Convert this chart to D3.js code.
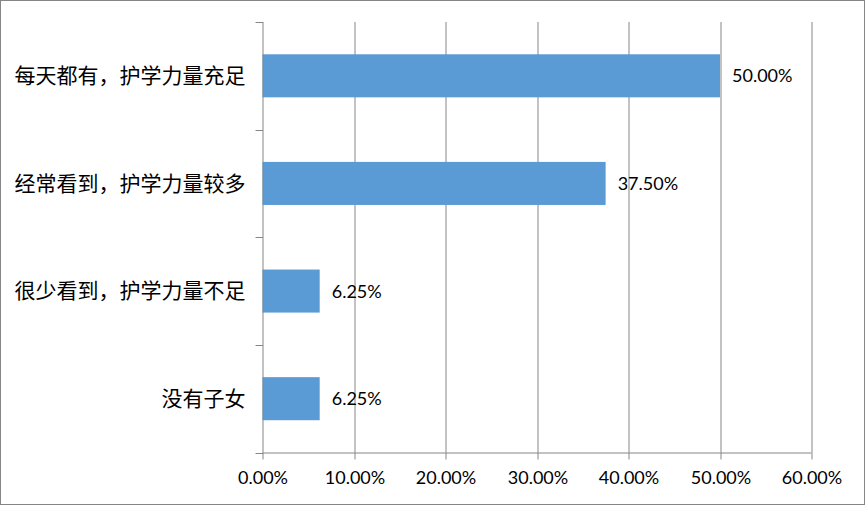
<!DOCTYPE html>
<html>
<head>
<meta charset="utf-8">
<script src="https://cdn.jsdelivr.net/npm/d3@7"></script>
<style>
  html, body { margin: 0; padding: 0; background: #fff; }
  svg { display: block; }
</style>
</head>
<body>
<svg id="chart" width="866" height="506"></svg>
<script>
const categories = ["每天都有，护学力量充足", "经常看到，护学力量较多", "很少看到，护学力量不足", "没有子女"];
const values = [0.50, 0.375, 0.0625, 0.0625];
const xTicks = [0, 0.1, 0.2, 0.3, 0.4, 0.5, 0.6];

const svg = d3.select("#chart");
const W = 866, H = 506;
const margin = { left: 262.5, right: 54.5, top: 22, bottom: 53.5 };
const innerW = W - margin.left - margin.right;
const innerH = H - margin.top - margin.bottom;
const gridColor = "#868686";

svg.append("rect").attr("x", 0.5).attr("y", 0.5).attr("width", 864).attr("height", 504)
  .attr("fill", "#fff").attr("stroke", gridColor).attr("stroke-width", 1);

const g = svg.append("g").attr("transform", `translate(${margin.left},${margin.top})`);

const x = d3.scaleLinear().domain([0, 0.6]).range([0, innerW]);
const y = d3.scaleBand().domain(categories).range([0, innerH]).paddingInner(0.6).paddingOuter(0.3);

// vertical gridlines
g.selectAll("line.grid").data(xTicks.slice(1)).enter().append("line")
  .attr("class", "grid")
  .attr("x1", d => Math.round(x(d)) + 0.5).attr("x2", d => Math.round(x(d)) + 0.5)
  .attr("y1", 0).attr("y2", innerH)
  .attr("stroke", gridColor).attr("stroke-width", 1);

// bars
g.selectAll("rect.bar").data(categories).enter().append("rect")
  .attr("class", "bar")
  .attr("x", 0)
  .attr("y", d => y(d))
  .attr("width", (d, i) => x(values[i]))
  .attr("height", y.bandwidth())
  .attr("fill", "#5B9BD5");

// bottom axis
const xAxis = d3.axisBottom(x).tickValues(xTicks).tickFormat(d => (d * 100).toFixed(2) + "%")
  .tickSize(7).tickSizeOuter(0);
const xa = g.append("g").attr("transform", `translate(0,${innerH})`).call(xAxis);
xa.select(".domain").attr("stroke", gridColor).attr("d", `M0,0.5H${innerW}`);
xa.selectAll(".tick line").attr("stroke", gridColor);
xa.selectAll(".tick").attr("transform", d => `translate(${Math.round(x(d)) + 0.5},0)`);
xa.selectAll(".tick text").attr("fill", "#000").attr("font-family", "Lato, sans-serif")
  .attr("font-size", 18).attr("dy", "0.71em").attr("y", 19);

// left axis: band boundary ticks
const boundaries = [0, 1, 2, 3, 4].map(i => i * innerH / 4);
g.append("line").attr("x1", 0.5).attr("x2", 0.5).attr("y1", 0).attr("y2", innerH)
  .attr("stroke", gridColor);
g.selectAll("line.ytick").data(boundaries).enter().append("line")
  .attr("class", "ytick")
  .attr("x1", -7).attr("x2", 0.5)
  .attr("y1", d => Math.round(d) + 0.5).attr("y2", d => Math.round(d) + 0.5)
  .attr("stroke", gridColor);

// category labels
g.selectAll("text.cat").data(categories).enter().append("text")
  .attr("class", "cat")
  .attr("x", -17)
  .attr("y", d => y(d) + y.bandwidth() / 2)
  .attr("dy", "0.35em")
  .attr("text-anchor", "end")
  .attr("font-family", "'Noto Sans CJK SC', sans-serif")
  .attr("font-size", 21)
  .attr("fill", "#000")
  .text(d => d);

// data labels
g.selectAll("text.val").data(categories).enter().append("text")
  .attr("class", "val")
  .attr("x", (d, i) => x(values[i]) + 12)
  .attr("y", d => y(d) + y.bandwidth() / 2)
  .attr("dy", "0.36em")
  .attr("font-family", "Lato, sans-serif")
  .attr("font-size", 18)
  .attr("fill", "#000")
  .text((d, i) => (values[i] * 100).toFixed(2) + "%");
</script>
</body>
</html>
